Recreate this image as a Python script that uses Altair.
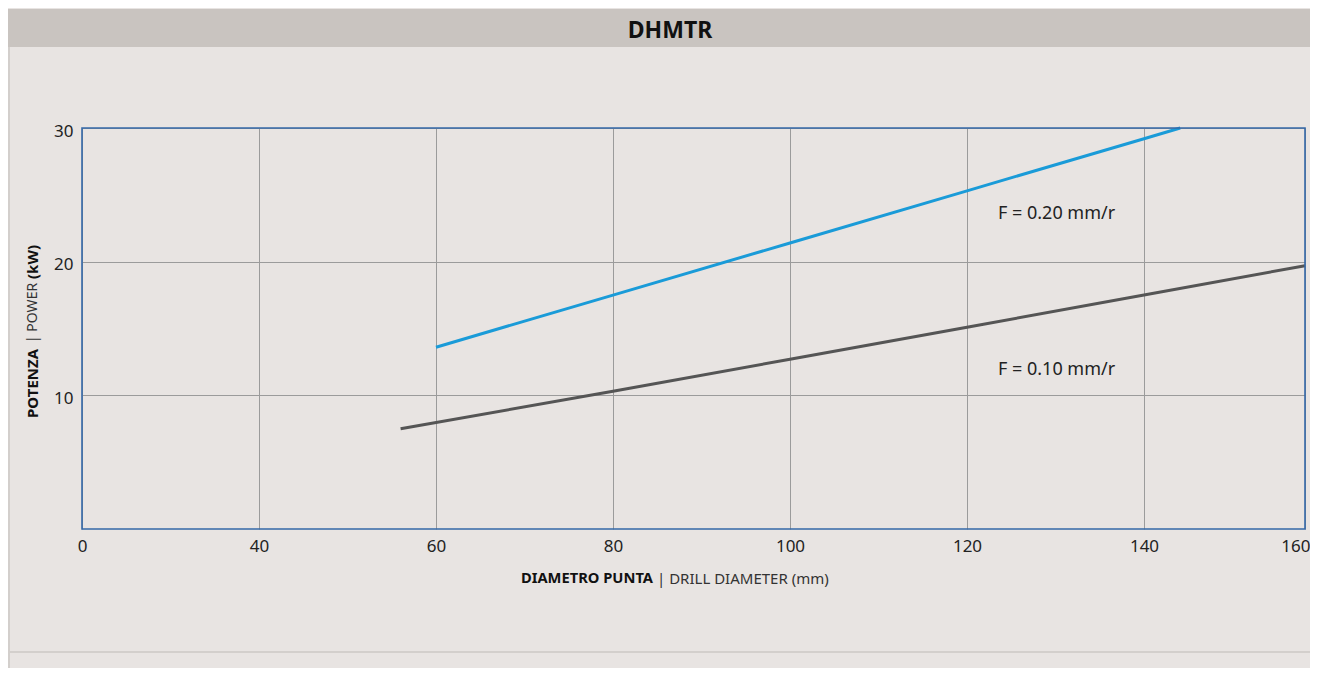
import altair as alt
import pandas as pd

# ---- data ----
x_ticks = [0, 40, 60, 80, 100, 120, 140, 160]
y_ticks = [10, 20, 30]

blue_x = [60, 80, 100, 120, 140, 144.5]
blue_y = [13.6, 17.5, 21.4, 25.3, 29.2, 30.0]
gray_x = [56, 80, 100, 120, 140, 160]
gray_y = [7.5, 10.3, 12.7, 15.1, 17.5, 19.7]

label_texts = ["F = 0.20 mm/r", "F = 0.10 mm/r"]
label_x = [123.5, 123.5]
label_y = [23.6, 11.9]

chart_title = "DHMTR"
x_title_bold = "DIAMETRO PUNTA"
x_title_regular = "| DRILL DIAMETER (mm)"
y_title_parts = ["POTENZA", "| POWER", "(kW)"]

FONT = "Noto Sans"
BG = "#e8e4e2"

W, H = 1223, 401
PAD = {"left": 74, "top": 120, "right": 5, "bottom": 139}

xscale = alt.Scale(domain=x_ticks, range=[0, 177, 354, 531, 708, 885, 1062, 1223])
yscale = alt.Scale(domain=[0, 30])

lines_df = pd.DataFrame({
    "d": blue_x + gray_x,
    "p": blue_y + gray_y,
    "s": ["F = 0.20"] * len(blue_x) + ["F = 0.10"] * len(gray_x),
})
labels_df = pd.DataFrame({"d": label_x, "p": label_y, "t": label_texts})

one = pd.DataFrame({"k": [0]})

# header bar
header = alt.Chart(one).mark_rect(color="#c9c4c0").encode(
    x=alt.value(-74), x2=alt.value(1228), y=alt.value(-119), y2=alt.value(-81)
)
header_text = alt.Chart(one).mark_text(
    text=chart_title, font=FONT, fontSize=23, fontWeight="bold", color="#111111",
    align="center", baseline="middle"
).encode(x=alt.value(588), y=alt.value(-97))

# separators
left_sep = alt.Chart(one).mark_rule(color="#d3cfcc", strokeWidth=2).encode(
    x=alt.value(-73), y=alt.value(-81), y2=alt.value(560)
)
bottom_sep = alt.Chart(one).mark_rule(color="#d3cfcc", strokeWidth=2).encode(
    x=alt.value(-73), x2=alt.value(1240), y=alt.value(524)
)

base = alt.Chart(lines_df).encode(
    x=alt.X("d:Q", scale=xscale,
            axis=alt.Axis(values=x_ticks, title=None, grid=True, gridColor="#9b9b9b",
                          gridWidth=1, domain=False, ticks=False, labelPadding=9,
                          labelFlush=False, labelFont=FONT, labelFontSize=17,
                          labelColor="#222222",
                          labelAlign={"condition": {"test": "datum.value == 160", "value": "right"},
                                      "value": "center"},
                          labelOffset={"condition": {"test": "datum.value == 160", "value": 5},
                                       "value": 0})),
    y=alt.Y("p:Q", scale=yscale,
            axis=alt.Axis(values=y_ticks, title=None, grid=True, gridColor="#9b9b9b",
                          gridWidth=1, domain=False, ticks=False, labelPadding=9,
                          labelOffset=3, labelFont=FONT, labelFontSize=17,
                          labelColor="#222222")),
)

lines = base.mark_line(strokeWidth=3).encode(
    color=alt.Color("s:N", scale=alt.Scale(domain=["F = 0.20", "F = 0.10"],
                                           range=["#1a9bd8", "#555555"]), legend=None),
    detail="s:N",
)

labels = alt.Chart(labels_df).mark_text(
    font=FONT, fontSize=18, color="#222222", align="left", baseline="middle"
).encode(x=alt.X("d:Q", scale=xscale), y=alt.Y("p:Q", scale=yscale), text="t:N")

frame = alt.Chart(one).mark_rect(fill=None, stroke="#3468a8", strokeWidth=1.6).encode(
    x=alt.value(0), x2=alt.value(W), y=alt.value(0), y2=alt.value(H)
)

xt1 = alt.Chart(one).mark_text(
    text=x_title_bold, font=FONT, fontSize=14.7, fontWeight="bold", color="#111111",
    align="right", baseline="middle"
).encode(x=alt.value(571), y=alt.value(451))
xt2 = alt.Chart(one).mark_text(
    text=x_title_regular, font=FONT, fontSize=15, color="#333333",
    align="left", baseline="middle"
).encode(x=alt.value(575), y=alt.value(451))

yt1 = alt.Chart(one).mark_text(
    text=y_title_parts[0], font=FONT, fontSize=15, fontWeight="bold", color="#111111",
    align="left", baseline="middle", angle=270
).encode(x=alt.value(-49), y=alt.value(290))
yt2 = alt.Chart(one).mark_text(
    text=y_title_parts[1], font=FONT, fontSize=14, color="#333333",
    align="left", baseline="middle", angle=270
).encode(x=alt.value(-49), y=alt.value(215))
yt3 = alt.Chart(one).mark_text(
    text=y_title_parts[2], font=FONT, fontSize=15, fontWeight="bold", color="#111111",
    align="left", baseline="middle", angle=270
).encode(x=alt.value(-49), y=alt.value(151))

chart = alt.layer(
    header, header_text, left_sep, bottom_sep, lines, labels, frame,
    xt1, xt2, yt1, yt2, yt3
).properties(
    width=W, height=H,
    autosize=alt.AutoSizeParams(type="none"),
    padding=PAD,
    background=BG,
).configure_view(stroke=None)

chart.save("out.html", embed_options={"renderer": "svg", "actions": False})
